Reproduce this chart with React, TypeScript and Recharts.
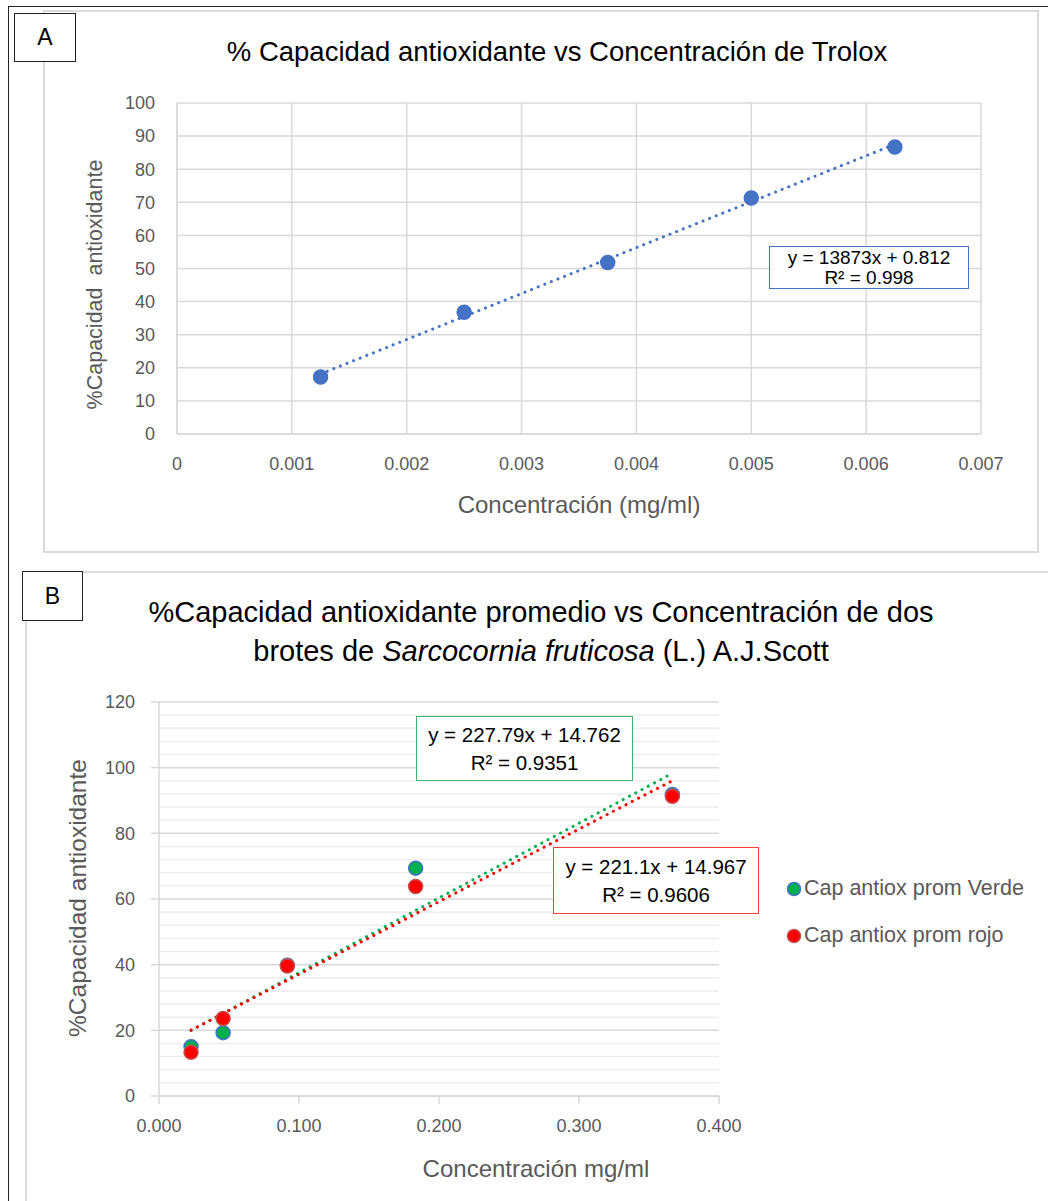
import React from "react";
import {
  ComposedChart,
  Scatter,
  Line,
  XAxis,
  YAxis,
  CartesianGrid,
  ReferenceLine,
} from "recharts";

// Panel A: Trolox standard curve
const troloxConc = [0.00125, 0.0025, 0.00375, 0.005, 0.00625];
const troloxCap = [17.2, 36.8, 51.8, 71.3, 86.7];
const troloxFit = { slope: 13873, intercept: 0.812 };
const xTicksA = [0, 0.001, 0.002, 0.003, 0.004, 0.005, 0.006, 0.007];
const yTicksA = [0, 10, 20, 30, 40, 50, 60, 70, 80, 90, 100];

// Panel B: two shoots of Sarcocornia fruticosa
const sprConc = [0.0229, 0.0458, 0.0917, 0.1833, 0.3667];
const capVerde = [15.0, 19.3, 39.8, 69.4, 91.8];
const capRojo = [13.3, 23.6, 39.6, 63.8, 91.3];
const fitVerde = { slope: 227.79, intercept: 14.762 };
const fitRojo = { slope: 221.1, intercept: 14.967 };
const xTicksB = [0, 0.1, 0.2, 0.3, 0.4];
const yTicksB = [0, 20, 40, 60, 80, 100, 120];
const minorTicksB = [
  4, 8, 12, 16, 24, 28, 32, 36, 44, 48, 52, 56, 64, 68, 72, 76, 84, 88, 92, 96,
  104, 108, 112, 116,
];

const FONT = "'Liberation Sans', Arial, sans-serif";
const GREY_TXT = "#595959";
const GRID = "#D9D9D9";

const toPoints = (xs: number[], ys: number[]) =>
  xs.map((x, i) => ({ x, y: ys[i] }));

const trend = (xs: number[], fit: { slope: number; intercept: number }) => {
  const lo = Math.min(...xs);
  const hi = Math.max(...xs);
  return [
    { x: lo, y: fit.slope * lo + fit.intercept },
    { x: hi, y: fit.slope * hi + fit.intercept },
  ];
};

const dot = (fill: string, stroke: string, r: number) => (p: any) => (
  <circle cx={p.cx} cy={p.cy} r={r} fill={fill} stroke={stroke} strokeWidth={1.5} />
);

const tickStyle = { fill: GREY_TXT, fontSize: 18, fontFamily: FONT };

function ChartA() {
  const data = toPoints(troloxConc, troloxCap);
  return (
    <ComposedChart
      width={1048}
      height={560}
      margin={{ top: 103, right: 67, bottom: 86, left: 127 }}
      style={{ position: "absolute", left: 0, top: 0 }}
    >
      <CartesianGrid stroke={GRID} strokeWidth={1.5} />
      <XAxis
        type="number"
        dataKey="x"
        domain={[0, 0.007]}
        ticks={xTicksA}
        tickFormatter={(v: number) => (v === 0 ? "0" : v.toFixed(3))}
        height={40}
        tick={tickStyle}
        tickLine={false}
        tickSize={0}
        tickMargin={23}
        axisLine={{ stroke: GRID, strokeWidth: 1.5 }}
      />
      <YAxis
        type="number"
        dataKey="y"
        domain={[0, 100]}
        ticks={yTicksA}
        width={50}
        tick={tickStyle}
        tickLine={false}
        tickSize={0}
        tickMargin={22}
        axisLine={{ stroke: GRID, strokeWidth: 1.5 }}
      />
      <Line
        data={trend(troloxConc, troloxFit)}
        dataKey="y"
        type="linear"
        stroke="#4472C4"
        strokeWidth={3}
        strokeDasharray="0.1 7"
        strokeLinecap="round"
        dot={false}
        isAnimationActive={false}
      />
      <Scatter
        data={data}
        fill="#4472C4"
        shape={dot("#4472C4", "#4472C4", 7)}
        isAnimationActive={false}
      />
    </ComposedChart>
  );
}

function ChartB() {
  const verde = toPoints(sprConc, capVerde);
  const rojo = toPoints(sprConc, capRojo);
  return (
    <ComposedChart
      width={1048}
      height={630}
      margin={{ top: 131, right: 329, bottom: 65, left: 109 }}
      style={{ position: "absolute", left: 0, top: 571 }}
    >
      {minorTicksB.map((v) => (
        <ReferenceLine key={v} y={v} stroke="#EDEDED" strokeWidth={1.5} />
      ))}
      <CartesianGrid vertical={false} stroke={GRID} strokeWidth={1.5} />
      <XAxis
        type="number"
        dataKey="x"
        domain={[0, 0.4]}
        ticks={xTicksB}
        tickFormatter={(v: number) => v.toFixed(3)}
        height={40}
        tick={tickStyle}
        tickLine={{ stroke: GRID, strokeWidth: 1.5 }}
        tickSize={8}
        tickMargin={15}
        axisLine={{ stroke: GRID, strokeWidth: 1.5 }}
      />
      <YAxis
        type="number"
        dataKey="y"
        domain={[0, 120]}
        ticks={yTicksB}
        width={50}
        tick={tickStyle}
        tickLine={{ stroke: GRID, strokeWidth: 1.5 }}
        tickSize={8}
        tickMargin={16}
        axisLine={{ stroke: GRID, strokeWidth: 1.5 }}
      />
      <Line
        data={trend(sprConc, fitVerde)}
        dataKey="y"
        type="linear"
        stroke="#00B050"
        strokeWidth={3}
        strokeDasharray="0.1 7"
        strokeLinecap="round"
        dot={false}
        isAnimationActive={false}
      />
      <Line
        data={trend(sprConc, fitRojo)}
        dataKey="y"
        type="linear"
        stroke="#FF0000"
        strokeWidth={3}
        strokeDasharray="0.1 7"
        strokeLinecap="round"
        dot={false}
        isAnimationActive={false}
      />
      <Scatter
        data={verde}
        fill="#00B050"
        shape={dot("#00B050", "#4472C4", 7)}
        isAnimationActive={false}
      />
      <Scatter
        data={rojo}
        fill="#FF0000"
        shape={dot("#FF0000", "#C0504D", 7)}
        isAnimationActive={false}
      />
    </ComposedChart>
  );
}

const abs = (s: React.CSSProperties): React.CSSProperties => ({
  position: "absolute",
  fontFamily: FONT,
  ...s,
});

function EqBox({
  left,
  top,
  width,
  height,
  color,
  fontSize,
  lineHeight,
  lines,
}: {
  left: number;
  top: number;
  width: number;
  height: number;
  color: string;
  fontSize: number;
  lineHeight: number;
  lines: string[];
}) {
  return (
    <div
      style={abs({
        left,
        top,
        width,
        height,
        boxSizing: "border-box",
        border: `1.5px solid ${color}`,
        background: "#fff",
        display: "flex",
        flexDirection: "column",
        justifyContent: "center",
        alignItems: "center",
        fontSize,
        lineHeight: `${lineHeight}px`,
        color: "#000",
        whiteSpace: "nowrap",
      })}
    >
      {lines.map((l) => (
        <div key={l}>{l}</div>
      ))}
    </div>
  );
}

const letterBox = (left: number, top: number, w: number, h: number): React.CSSProperties =>
  abs({
    left,
    top,
    width: w,
    height: h,
    boxSizing: "border-box",
    border: "1.5px solid #222",
    background: "#fff",
    fontSize: 23,
    display: "flex",
    alignItems: "center",
    justifyContent: "center",
  });

export default function App() {
  return (
    <div
      style={{
        position: "relative",
        width: 1048,
        height: 1201,
        background: "#fff",
        overflow: "hidden",
      }}
    >
      <style>{"body{margin:0}"}</style>
      {/* frames */}
      <div style={abs({ left: 8, top: 6, width: 1100, height: 1300, borderLeft: "1.5px solid #222", borderTop: "1.5px solid #222" })} />
      <div style={abs({ left: 43, top: 10, width: 996, height: 543, boxSizing: "border-box", border: "2px solid #D9D9D9" })} />
      <div style={abs({ left: 25, top: 571, width: 1100, height: 700, borderLeft: "2px solid #D9D9D9", borderTop: "2px solid #D9D9D9" })} />

      <ChartA />
      <ChartB />

      {/* panel A texts */}
      <div style={letterBox(14, 13, 62, 49)}>A</div>
      <div style={abs({ left: 107, top: 36, width: 900, textAlign: "center", fontSize: 27.5, color: "#000", whiteSpace: "nowrap" })}>
        % Capacidad antioxidante vs Concentración de Trolox
      </div>
      <div style={abs({ left: 379, top: 491, width: 400, textAlign: "center", fontSize: 24, color: GREY_TXT })}>
        Concentración (mg/ml)
      </div>
      <div style={abs({ left: -55, top: 272, width: 300, textAlign: "center", fontSize: 21.5, color: GREY_TXT, transform: "rotate(-90deg)", whiteSpace: "pre" })}>
        {"%Capacidad  antioxidante"}
      </div>
      <EqBox left={769} top={246} width={200} height={43} fontSize={19} lineHeight={20} color="#4472C4" lines={["y = 13873x + 0.812", "R² = 0.998"]} />

      {/* panel B texts */}
      <div style={letterBox(22, 571, 61, 50)}>B</div>
      <div style={abs({ left: 41, top: 593, width: 1000, textAlign: "center", fontSize: 29, lineHeight: "39px", color: "#000", whiteSpace: "nowrap" })}>
        %Capacidad antioxidante promedio vs Concentración de dos
        <br />
        brotes de <i>Sarcocornia fruticosa</i> (L.) A.J.Scott
      </div>
      <div style={abs({ left: 336, top: 1155, width: 400, textAlign: "center", fontSize: 24, color: GREY_TXT })}>
        Concentración mg/ml
      </div>
      <div style={abs({ left: -72, top: 884, width: 300, textAlign: "center", fontSize: 24.5, color: GREY_TXT, transform: "rotate(-90deg)", whiteSpace: "nowrap" })}>
        %Capacidad antioxidante
      </div>
      <EqBox left={416} top={716} width={217} height={65} fontSize={20.5} lineHeight={28} color="#3CB371" lines={["y = 227.79x + 14.762", "R² = 0.9351"]} />
      <EqBox left={553} top={847} width={206} height={67} fontSize={20.5} lineHeight={28} color="#FF4040" lines={["y = 221.1x + 14.967", "R² = 0.9606"]} />

      {/* legend */}
      {[
        { label: "Cap antiox prom Verde", fill: "#00B050", stroke: "#4472C4", top: 876 },
        { label: "Cap antiox prom rojo", fill: "#FF0000", stroke: "#C0504D", top: 923 },
      ].map((it) => (
        <div key={it.label} style={abs({ left: 786, top: it.top, display: "flex", alignItems: "center", fontSize: 21.5, color: GREY_TXT, whiteSpace: "nowrap" })}>
          <svg width={16} height={16} style={{ marginRight: 2 }}>
            <circle cx={8} cy={8} r={6.5} fill={it.fill} stroke={it.stroke} strokeWidth={1.5} />
          </svg>
          {it.label}
        </div>
      ))}
    </div>
  );
}
